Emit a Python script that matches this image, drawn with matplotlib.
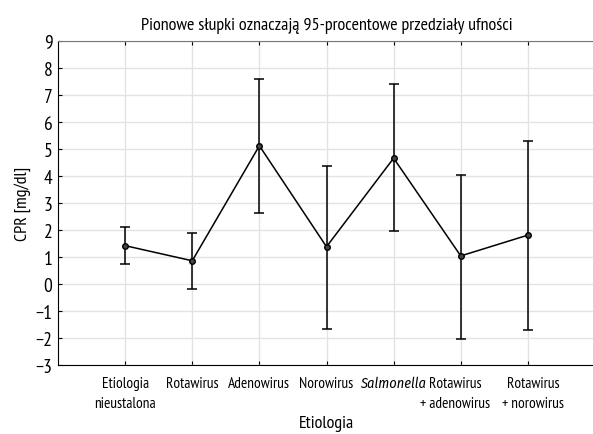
import matplotlib
matplotlib.use("Agg")
import matplotlib.pyplot as plt
import matplotlib.transforms as mtransforms
from matplotlib import font_manager as fm

categories = ["Etiologia\nnieustalona", "Rotawirus", "Adenowirus", "Norowirus",
              "Salmonella", "Rotawirus\n+\u2009adenowirus", "Rotawirus\n+\u2009norowirus"]
means = [1.42, 0.86, 5.12, 1.38, 4.66, 1.04, 1.81]
ci_low = [0.74, -0.20, 2.64, -1.67, 1.96, -2.02, -1.72]
ci_high = [2.10, 1.89, 7.60, 4.37, 7.40, 4.05, 5.30]
yticks = list(range(-3, 10))

cands = ["Myriad Pro Cond", "PT Sans Narrow", "Fira Sans Condensed", "Open Sans Condensed",
         "Roboto Condensed", "Asap Condensed", "Barlow Semi Condensed",
         "Liberation Sans Narrow", "DejaVu Sans Condensed"]
avail = {f.name for f in fm.fontManager.ttflist}
italic_avail = {f.name for f in fm.fontManager.ttflist if f.style == "italic"}
family = None
for cand in cands:
    if cand in avail:
        family = cand
        break
scale = 1.0
if family is None:
    family = "Liberation Sans"
    scale = 0.85
ital_family = family
ital_scale = 1.0
if family not in italic_avail:
    for cand in cands:
        if cand in italic_avail:
            ital_family = cand
            ital_scale = 0.94
            break
plt.rcParams["font.family"] = [family, "DejaVu Sans"]
plt.rcParams["axes.unicode_minus"] = True

fig = plt.figure(figsize=(5.93, 4.35), dpi=100)
ax = fig.add_axes([58 / 593, 69 / 435, 537 / 593, 324 / 435])

x = list(range(len(categories)))
yerr = [[m - l for m, l in zip(means, ci_low)], [h - m for m, h in zip(means, ci_high)]]
ax.errorbar(x, means, yerr=yerr, color="black", lw=1.1, elinewidth=1.1,
            capsize=3.5, capthick=1.1, marker="o", markersize=4,
            markerfacecolor="#444444", markeredgecolor="black", zorder=3)

ax.set_xlim(-1, 7)
ax.set_ylim(-3, 9)
ax.set_yticks(yticks)
ax.set_yticklabels([str(v).replace("-", "\u2212") for v in yticks])
ax.set_xticks(x)
ax.set_xticklabels(categories, fontsize=11.0 * scale, linespacing=1.5)
ax.tick_params(axis="y", labelsize=14 * scale, direction="in", length=3, pad=4)
ax.tick_params(axis="x", direction="in", length=3, pad=8, top=True)
for i, lbl in enumerate(ax.get_xticklabels()):
    if lbl.get_text() == "Salmonella":
        lbl.set_family([ital_family, "DejaVu Sans"])
        lbl.set_style("italic")
        lbl.set_fontsize(11.0 * scale * ital_scale)
    shift = {5: -4, 6: 4}.get(i, 0)
    if shift:
        lbl.set_transform(lbl.get_transform() +
                          mtransforms.ScaledTranslation(shift / 72, 0, fig.dpi_scale_trans))

ax.grid(True, color="#e3e3e3", lw=1)
ax.set_axisbelow(True)
ax.spines["top"].set_color("#777777")
ax.spines["right"].set_visible(False)
ax.spines["left"].set_color("black")
ax.spines["bottom"].set_color("black")

ax.set_title("Pionowe słupki oznaczają 95-procentowe przedziały ufności", fontsize=13 * scale, pad=9)
ax.set_xlabel("Etiologia", fontsize=13 * scale, labelpad=4)
ax.set_ylabel("CPR [mg/dl]", fontsize=13 * scale, labelpad=3)

fig.savefig("out.png", dpi=100)
